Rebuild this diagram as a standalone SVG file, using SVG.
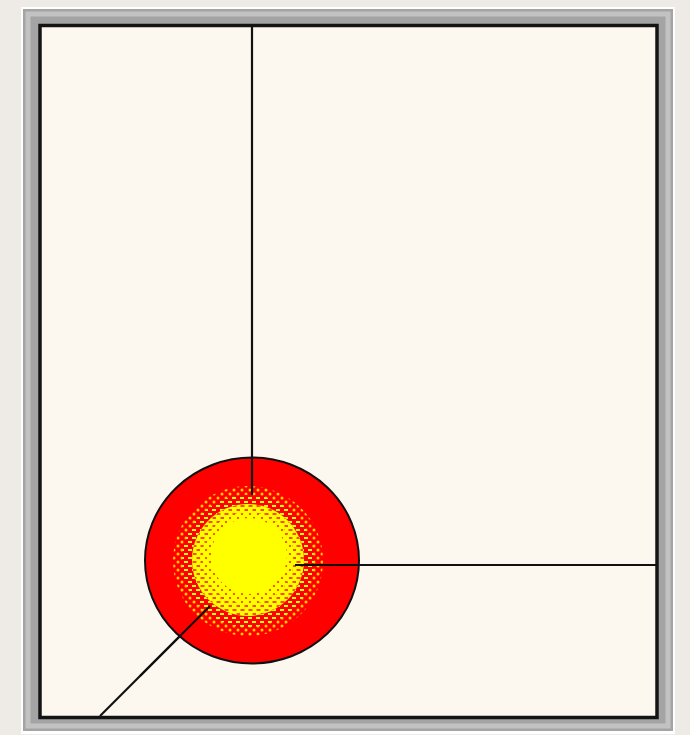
<svg xmlns="http://www.w3.org/2000/svg" width="690" height="735" viewBox="0 0 690 735">
  <defs>
    <pattern id="sparse" width="8" height="8" patternUnits="userSpaceOnUse">
      <rect width="8" height="8" fill="#ff0000"/>
      <circle cx="2" cy="2" r="1.5" fill="#ffd000"/>
      <circle cx="6" cy="6" r="1.5" fill="#ffd000"/>
    </pattern>
    <pattern id="mid" width="8" height="8" patternUnits="userSpaceOnUse">
      <rect width="8" height="8" fill="#ff0000"/>
      <rect x="0" y="1" width="4" height="2" fill="#ffff00"/>
      <rect x="4" y="5" width="4" height="2" fill="#ffff00"/>
    </pattern>
    <pattern id="dense" width="8" height="8" patternUnits="userSpaceOnUse">
      <rect width="8" height="8" fill="#ffff00"/>
      <rect x="0.5" y="1.2" width="4" height="1.6" fill="#ff2000"/>
      <rect x="4.5" y="5.2" width="4" height="1.6" fill="#ff2000"/>
    </pattern>
    <pattern id="light" width="8" height="8" patternUnits="userSpaceOnUse">
      <rect width="8" height="8" fill="#ffff00"/>
      <circle cx="2" cy="2" r="1.1" fill="#ff3000"/>
      <circle cx="6" cy="6" r="1.1" fill="#ff3000"/>
    </pattern>
  </defs>
  <style>
    .wire { stroke: #111; stroke-width: 2.2; fill: none; }
  </style>
  <rect width="690" height="735" fill="#eeebe7"/>
  <g id="frame">
    <rect x="21" y="7" width="654" height="727" fill="#ffffff"/>
    <rect x="23" y="9" width="650" height="722" fill="#a4a4a4"/>
    <rect x="28" y="14" width="640" height="712" fill="none" stroke="#c2c2c2" stroke-width="5"/>
    <rect x="40" y="25.5" width="617" height="692" fill="#fdf8ef" stroke="#141414" stroke-width="3.5"/>
  </g>
  <g id="connectors">
    <line class="wire" x1="252" y1="27" x2="252" y2="495"/>
    <line class="wire" x1="295" y1="565" x2="656" y2="565"/>
    <line class="wire" x1="100" y1="716" x2="210" y2="606"/>
  </g>
  <g id="ball">
    <ellipse cx="252" cy="560.5" rx="107" ry="103" fill="#ff0000" stroke="#111" stroke-width="2"/>
    <circle cx="248" cy="561" r="75" fill="url(#sparse)"/>
    <circle cx="248" cy="561" r="66" fill="url(#mid)"/>
    <circle cx="248" cy="560" r="56" fill="url(#dense)"/>
    <circle cx="248" cy="558" r="46" fill="url(#light)"/>
    <circle cx="249" cy="556" r="38" fill="#ffff00"/>
    <line class="wire" x1="252" y1="458" x2="252" y2="495"/>
    <line class="wire" x1="295" y1="565" x2="360" y2="565"/>
    <line class="wire" x1="140" y1="676" x2="210" y2="606"/>
  </g>
</svg>
